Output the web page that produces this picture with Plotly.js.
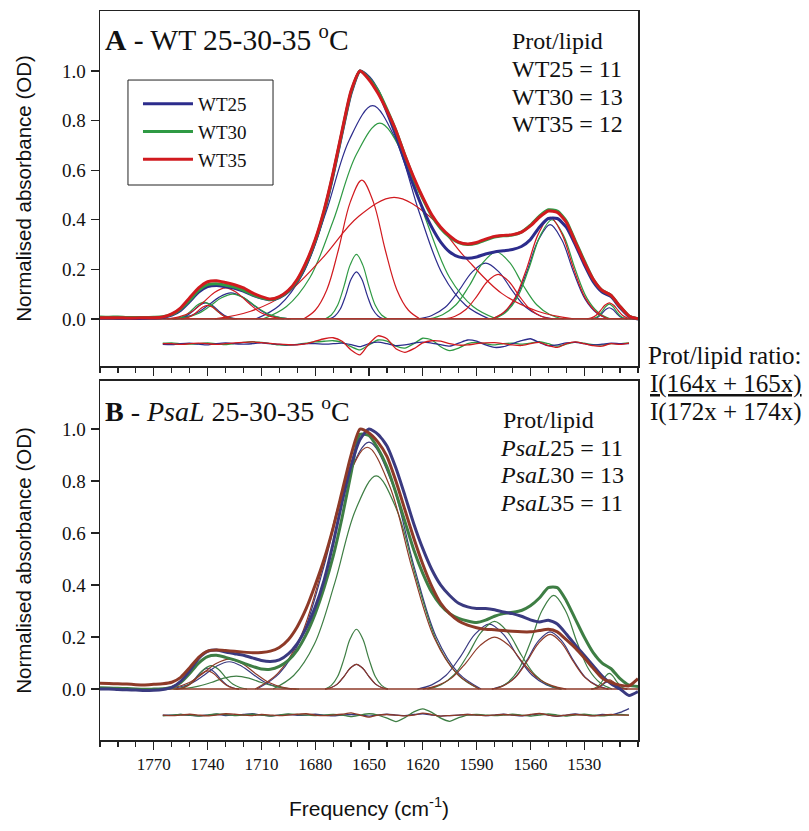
<!DOCTYPE html>
<html><head><meta charset="utf-8">
<script src="https://cdn.plot.ly/plotly-3.0.1.min.js"></script>
<style>html,body{margin:0;padding:0;background:#fff;}#chart{width:809px;height:831px;}</style>
</head><body><div id="chart"></div>
<script>
// ---- wavenumber grids (cm-1) ----
const wavenumbers = [1800,1795,1790,1785,1780,1775,1770,1765,1760,1755,1750,1745,1740,1735,1730,1725,1720,1715,1710,1705,1700,1695,1690,1685,1680,1675,1670,1665,1660,1655,1650,1645,1640,1635,1630,1625,1620,1615,1610,1605,1600,1595,1590,1585,1580,1575,1570,1565,1560,1555,1550,1545,1540,1535,1530,1525,1520,1515,1510,1505,1500];
const residWavenumbers = [1765,1760,1755,1750,1745,1740,1735,1730,1725,1720,1715,1710,1705,1700,1695,1690,1685,1680,1675,1670,1665,1660,1655,1650,1645,1640,1635,1630,1625,1620,1615,1610,1605,1600,1595,1590,1585,1580,1575,1570,1565,1560,1555,1550,1545,1540,1535,1530,1525,1520,1515,1510,1505];
const baselineX = [1800, 1500];
const baselineY = [0, 0];

// ---- Panel A: WT spectra ----
const specWT25 = [.004,.004,.003,.003,.002,.003,.004,.006,.015,.035,.07,.108,.13,.135,.13,.124,.112,.096,.084,.077,.086,.11,.152,.22,.31,.43,.58,.75,.91,1.0,.975,.92,.835,.74,.635,.535,.445,.37,.31,.27,.25,.245,.25,.262,.27,.275,.28,.292,.32,.37,.405,.405,.37,.3,.22,.15,.108,.09,.045,.01,0];
const specWT30 = [.008,.007,.008,.006,.006,.006,.007,.009,.018,.04,.075,.115,.138,.142,.136,.128,.115,.098,.085,.078,.088,.112,.155,.225,.315,.435,.585,.755,.915,1.0,.97,.92,.845,.76,.66,.565,.485,.415,.365,.33,.308,.3,.305,.318,.33,.335,.338,.35,.378,.415,.44,.435,.395,.315,.235,.16,.115,.095,.05,.012,0];
const specWT35 = [.005,.005,.005,.004,.004,.005,.005,.008,.02,.045,.085,.125,.15,.154,.147,.138,.125,.105,.09,.08,.09,.115,.16,.23,.32,.44,.59,.76,.92,1.0,.965,.91,.84,.76,.66,.57,.49,.42,.37,.335,.31,.302,.308,.322,.333,.337,.34,.35,.375,.41,.435,.43,.39,.31,.23,.16,.115,.095,.05,.012,0];
const residWT25 = [-.103,-.104,-.1,-.098,-.102,-.105,-.1,-.097,-.1,-.102,-.1,-.097,-.1,-.103,-.105,-.104,-.1,-.1,-.102,-.1,-.098,-.104,-.112,-.1,-.094,-.1,-.108,-.105,-.098,-.094,-.098,-.104,-.11,-.098,-.085,-.09,-.105,-.115,-.112,-.1,-.088,-.08,-.095,-.108,-.105,-.097,-.095,-.1,-.105,-.102,-.098,-.1,-.1];
const residWT30 = [-.098,-.097,-.1,-.102,-.1,-.097,-.1,-.104,-.1,-.095,-.092,-.095,-.1,-.105,-.106,-.103,-.098,-.093,-.09,-.088,-.095,-.112,-.125,-.105,-.085,-.09,-.11,-.118,-.1,-.078,-.085,-.112,-.128,-.118,-.1,-.095,-.1,-.105,-.1,-.098,-.102,-.098,-.092,-.1,-.11,-.102,-.094,-.098,-.104,-.105,-.1,-.1,-.097];
const residWT35 = [-.1,-.1,-.103,-.1,-.098,-.1,-.103,-.1,-.097,-.095,-.093,-.096,-.099,-.102,-.104,-.105,-.1,-.09,-.08,-.076,-.09,-.125,-.145,-.1,-.068,-.08,-.12,-.135,-.12,-.097,-.088,-.09,-.1,-.106,-.105,-.1,-.097,-.096,-.1,-.105,-.107,-.1,-.095,-.108,-.115,-.1,-.093,-.1,-.108,-.11,-.1,-.103,-.098];

// fitted component bands (x positions, heights)
const bandsWT25_x = [[1723.5,1727,1730.5,1734,1737.5,1741,1744.5,1748,1751.5,1755,1758.5],[1694.5,1701,1707.5,1714,1720.5,1727,1733.5,1740,1746.5,1753,1759.5],[1642,1645,1648,1651,1654,1657,1660,1663,1666,1669,1672],[1583,1596,1609,1622,1635,1648,1661,1674,1687,1700,1713],[1547.5,1555,1562.5,1570,1577.5,1585,1592.5,1600,1607.5,1615,1622.5],[1516.5,1523,1529.5,1536,1542.5,1549,1555.5,1562,1568.5,1575,1581.5],[1506,1508,1510,1512,1514,1516,1518,1520,1522,1524,1526]];
const bandsWT25_y = [[0,.004,.014,.033,.055,.065,.055,.033,.014,.004,0],[0,.007,.022,.053,.088,.105,.088,.053,.022,.007,0],[0,.012,.04,.095,.16,.19,.16,.095,.04,.012,0],[0,.054,.18,.43,.722,.86,.722,.43,.18,.054,0],[0,.014,.047,.113,.189,.225,.189,.113,.047,.014,0],[0,.024,.08,.19,.319,.38,.319,.19,.08,.024,0],[0,.003,.009,.023,.038,.045,.038,.023,.009,.003,0]];
const bandsWT30_x = [[1724.5,1728,1731.5,1735,1738.5,1742,1745.5,1749,1752.5,1756,1759.5],[1693.5,1700,1706.5,1713,1719.5,1726,1732.5,1739,1745.5,1752,1758.5],[1639.5,1643,1646.5,1650,1653.5,1657,1660.5,1664,1667.5,1671,1674.5],[1579,1592,1605,1618,1631,1644,1657,1670,1683,1696,1709],[1541.5,1549,1556.5,1564,1571.5,1579,1586.5,1594,1601.5,1609,1616.5],[1515.5,1522,1528.5,1535,1541.5,1548,1554.5,1561,1567.5,1574,1580.5],[1506,1508,1510,1512,1514,1516,1518,1520,1522,1524,1526]];
const bandsWT30_y = [[0,.004,.014,.034,.057,.068,.057,.034,.014,.004,0],[0,.006,.021,.05,.084,.1,.084,.05,.021,.006,0],[0,.016,.055,.13,.218,.26,.218,.13,.055,.016,0],[0,.05,.166,.395,.664,.79,.664,.395,.166,.05,0],[0,.017,.057,.135,.227,.27,.227,.135,.057,.017,0],[0,.025,.084,.2,.336,.4,.336,.2,.084,.025,0],[0,.004,.013,.03,.05,.06,.05,.03,.013,.004,0]];
const bandsWT35_x = [[1725,1728,1731,1734,1737,1740,1743,1746,1749,1752,1755],[1697.5,1704,1710.5,1717,1723.5,1730,1736.5,1743,1749.5,1756,1762.5],[1621.5,1628,1634.5,1641,1647.5,1654,1660.5,1667,1673.5,1680,1686.5],[1536,1556,1576,1596,1616,1636,1656,1676,1696,1716,1736],[1548,1554,1560,1566,1572,1578,1584,1590,1596,1602,1608],[1516.5,1523,1529.5,1536,1542.5,1549,1555.5,1562,1568.5,1575,1581.5],[1503.5,1506,1508.5,1511,1513.5,1516,1518.5,1521,1523.5,1526,1528.5]];
const bandsWT35_y = [[0,.003,.012,.028,.046,.055,.046,.028,.012,.003,0],[0,.008,.026,.063,.105,.125,.105,.063,.026,.008,0],[0,.035,.118,.28,.47,.56,.47,.28,.118,.035,0],[0,.031,.103,.245,.412,.49,.412,.245,.103,.031,0],[0,.011,.038,.09,.151,.18,.151,.09,.038,.011,0],[0,.026,.086,.205,.344,.41,.344,.205,.086,.026,0],[0,.004,.014,.033,.055,.065,.055,.033,.014,.004,0]];

// ---- Panel B: PsaL spectra ----
const specPsaL25 = [0,0,-.002,-.003,-.004,-.006,-.005,-.002,.006,.03,.07,.118,.145,.15,.142,.136,.13,.12,.11,.106,.112,.135,.175,.235,.315,.42,.56,.72,.86,.96,1.0,.98,.935,.85,.745,.635,.54,.46,.4,.36,.33,.316,.31,.31,.305,.296,.29,.28,.266,.258,.265,.25,.212,.17,.13,.09,.05,.02,0,-.025,-.01];
const specPsaL30 = [.005,.004,.003,.002,0,-.001,0,.001,.006,.025,.06,.1,.125,.13,.122,.112,.1,.087,.077,.076,.087,.11,.15,.21,.29,.39,.51,.66,.83,.98,.975,.925,.855,.755,.645,.535,.445,.372,.322,.29,.272,.262,.256,.265,.28,.29,.295,.302,.32,.35,.39,.39,.34,.27,.2,.14,.1,.078,.04,.015,.01];
const specPsaL35 = [.022,.021,.02,.019,.017,.016,.018,.02,.026,.045,.082,.122,.146,.15,.148,.145,.142,.14,.141,.146,.16,.19,.24,.31,.4,.5,.62,.76,.9,1.0,.985,.95,.895,.8,.69,.58,.48,.395,.33,.29,.262,.246,.236,.23,.228,.225,.222,.22,.22,.225,.23,.22,.19,.158,.12,.08,.042,.025,.015,.012,.04];
const residPsaL25 = [-.1,-.1,-.098,-.101,-.103,-.1,-.097,-.102,-.1,-.098,-.095,-.1,-.103,-.1,-.098,-.101,-.1,-.097,-.1,-.103,-.1,-.098,-.1,-.104,-.1,-.097,-.1,-.102,-.098,-.095,-.1,-.104,-.102,-.1,-.098,-.1,-.102,-.1,-.097,-.1,-.103,-.1,-.095,-.1,-.105,-.1,-.096,-.1,-.102,-.098,-.1,-.09,-.075];
const residPsaL30 = [-.103,-.1,-.098,-.1,-.104,-.1,-.096,-.098,-.102,-.1,-.097,-.1,-.104,-.1,-.096,-.098,-.1,-.102,-.1,-.098,-.1,-.106,-.1,-.095,-.1,-.112,-.125,-.11,-.088,-.076,-.09,-.112,-.124,-.11,-.1,-.098,-.1,-.102,-.1,-.097,-.1,-.104,-.1,-.096,-.1,-.104,-.1,-.097,-.1,-.103,-.1,-.098,-.1];
const residPsaL35 = [-.1,-.102,-.1,-.097,-.1,-.103,-.1,-.095,-.097,-.1,-.102,-.098,-.1,-.102,-.1,-.097,-.095,-.1,-.102,-.1,-.097,-.092,-.1,-.108,-.1,-.098,-.1,-.103,-.1,-.093,-.098,-.104,-.102,-.1,-.098,-.1,-.102,-.1,-.098,-.1,-.102,-.098,-.094,-.1,-.104,-.1,-.098,-.1,-.103,-.1,-.098,-.1,-.1];

const bandsPsaL25_x = [[1722.5,1726,1729.5,1733,1736.5,1740,1743.5,1747,1750.5,1754,1757.5],[1693,1700,1707,1714,1721,1728,1735,1742,1749,1756,1763],[1639.5,1643,1646.5,1650,1653.5,1657,1660.5,1664,1667.5,1671,1674.5],[1587.5,1600,1612.5,1625,1637.5,1650,1662.5,1675,1687.5,1700,1712.5],[1543,1551,1559,1567,1575,1583,1591,1599,1607,1615,1623],[1516.5,1523,1529.5,1536,1542.5,1549,1555.5,1562,1568.5,1575,1581.5],[1506,1508,1510,1512,1514,1516,1518,1520,1522,1524,1526]];
const bandsPsaL25_y = [[0,.005,.017,.04,.067,.08,.067,.04,.017,.005,0],[0,.007,.022,.053,.088,.105,.088,.053,.022,.007,0],[0,.006,.02,.048,.08,.095,.08,.048,.02,.006,0],[0,.06,.2,.475,.798,.95,.798,.475,.2,.06,0],[0,.016,.053,.125,.21,.25,.21,.125,.053,.016,0],[0,.014,.046,.11,.185,.22,.185,.11,.046,.014,0],[0,.002,.006,.015,.025,.03,.025,.015,.006,.002,0]];
const bandsPsaL30_x = [[1718,1722,1726,1730,1734,1738,1742,1746,1750,1754,1758],[1689,1696,1703,1710,1717,1724,1731,1738,1745,1752,1759],[1639.5,1643,1646.5,1650,1653.5,1657,1660.5,1664,1667.5,1671,1674.5],[1588.5,1600,1611.5,1623,1634.5,1646,1657.5,1669,1680.5,1692,1703.5],[1542.5,1550,1557.5,1565,1572.5,1580,1587.5,1595,1602.5,1610,1617.5],[1514.5,1521,1527.5,1534,1540.5,1547,1553.5,1560,1566.5,1573,1579.5],[1506,1508,1510,1512,1514,1516,1518,1520,1522,1524,1526]];
const bandsPsaL30_y = [[0,.006,.019,.045,.076,.09,.076,.045,.019,.006,0],[0,.003,.011,.025,.042,.05,.042,.025,.011,.003,0],[0,.014,.048,.115,.193,.23,.193,.115,.048,.014,0],[0,.052,.172,.41,.689,.82,.689,.41,.172,.052,0],[0,.016,.055,.13,.218,.26,.218,.13,.055,.016,0],[0,.023,.076,.18,.302,.36,.302,.18,.076,.023,0],[0,.004,.013,.03,.05,.06,.05,.03,.013,.004,0]];
const bandsPsaL35_x = [[1722.5,1726,1729.5,1733,1736.5,1740,1743.5,1747,1750.5,1754,1757.5],[1690.5,1698,1705.5,1713,1720.5,1728,1735.5,1743,1750.5,1758,1765.5],[1639.5,1643,1646.5,1650,1653.5,1657,1660.5,1664,1667.5,1671,1674.5],[1588.5,1601,1613.5,1626,1638.5,1651,1663.5,1676,1688.5,1701,1713.5],[1540,1548,1556,1564,1572,1580,1588,1596,1604,1612,1620],[1516.5,1523,1529.5,1536,1542.5,1549,1555.5,1562,1568.5,1575,1581.5],[1506,1508,1510,1512,1514,1516,1518,1520,1522,1524,1526]];
const bandsPsaL35_y = [[0,.004,.015,.035,.059,.07,.059,.035,.015,.004,0],[0,.007,.024,.058,.097,.115,.097,.058,.024,.007,0],[0,.006,.02,.048,.08,.095,.08,.048,.02,.006,0],[0,.059,.195,.465,.781,.93,.781,.465,.195,.059,0],[0,.013,.042,.1,.168,.2,.168,.1,.042,.013,0],[0,.013,.044,.105,.176,.21,.176,.105,.044,.013,0],[0,.002,.007,.018,.029,.035,.029,.018,.007,.002,0]];

const yTickVals = [0, 0.2, 0.4, 0.6, 0.8, 1.0];
const xTickVals = [1770, 1740, 1710, 1680, 1650, 1620, 1590, 1560, 1530];

// ---- styling ----
const colA = {WT25: '#2C2C8C', WT30: '#2F9A44', WT35: '#D11A1F'};
const colB = {P25: '#3A3A80', P30: '#3E7E44', P35: '#8E3A28'};
const SERIF = 'Liberation Serif, Times New Roman, serif';
const SANS = 'Liberation Sans, Arial, sans-serif';

const traces = [];
function addBands(xs, ys, color, xa, ya) {
  for (let i = 0; i < xs.length; i++) {
    traces.push({x: xs[i], y: ys[i], xaxis: xa, yaxis: ya, mode: 'lines', showlegend: false, hoverinfo: 'skip',
      line: {color: color, width: 1.2, shape: 'spline', smoothing: 1}});
  }
}
function addLine(x, y, color, w, xa, ya, name, legend) {
  const t = {x: x, y: y, xaxis: xa, yaxis: ya, mode: 'lines', showlegend: !!legend,
    line: {color: color, width: w, shape: 'spline', smoothing: 0.6}};
  if (name) { t.name = name; t.legendgroup = name; }
  traces.push(t);
}

// Panel A
addBands(bandsWT25_x, bandsWT25_y, colA.WT25, 'x', 'y');
addBands(bandsWT30_x, bandsWT30_y, colA.WT30, 'x', 'y');
addBands(bandsWT35_x, bandsWT35_y, colA.WT35, 'x', 'y');
addLine(baselineX, baselineY, colA.WT25, 1.2, 'x', 'y');
addLine(baselineX, baselineY, colA.WT30, 1.2, 'x', 'y');
addLine(baselineX, baselineY, colA.WT35, 1.4, 'x', 'y');
addLine(residWavenumbers, residWT30, colA.WT30, 1.3, 'x', 'y');
addLine(residWavenumbers, residWT25, colA.WT25, 1.3, 'x', 'y');
addLine(residWavenumbers, residWT35, colA.WT35, 1.3, 'x', 'y');
addLine(wavenumbers, specWT25, colA.WT25, 3, 'x', 'y', 'WT25', true);
addLine(wavenumbers, specWT30, colA.WT30, 3, 'x', 'y', 'WT30', true);
addLine(wavenumbers, specWT35, colA.WT35, 3, 'x', 'y', 'WT35', true);

// Panel B
addBands(bandsPsaL25_x, bandsPsaL25_y, colB.P25, 'x2', 'y2');
addBands(bandsPsaL30_x, bandsPsaL30_y, colB.P30, 'x2', 'y2');
addBands(bandsPsaL35_x, bandsPsaL35_y, colB.P35, 'x2', 'y2');
addLine(baselineX, baselineY, colB.P35, 1.4, 'x2', 'y2');
addLine(residWavenumbers, residPsaL25, colB.P25, 1.3, 'x2', 'y2');
addLine(residWavenumbers, residPsaL30, colB.P30, 1.3, 'x2', 'y2');
addLine(residWavenumbers, residPsaL35, colB.P35, 1.3, 'x2', 'y2');
addLine(wavenumbers, specPsaL30, colB.P30, 3, 'x2', 'y2');
addLine(wavenumbers, specPsaL25, colB.P25, 3, 'x2', 'y2');
addLine(wavenumbers, specPsaL35, colB.P35, 3, 'x2', 'y2');

const xCommon = {range: [1800, 1500], showline: true, mirror: true, linecolor: '#222', linewidth: 1.5,
  ticks: 'outside', ticklen: 8, tickwidth: 1.3, tickcolor: '#222', tickvals: xTickVals,
  minor: {dtick: 10, tick0: 1500, ticks: 'outside', ticklen: 5, tickwidth: 1.2, tickcolor: '#222'},
  showgrid: false, zeroline: false, fixedrange: true,
  tickfont: {family: SERIF, size: 17, color: '#111'}};
const yCommon = {showline: true, mirror: true, linecolor: '#222', linewidth: 1.5,
  ticks: 'outside', ticklen: 8, tickwidth: 1.3, tickcolor: '#222', tickvals: yTickVals, tickformat: '.1f',
  showgrid: false, zeroline: false, fixedrange: true, ticklabelstandoff: 1,
  tickfont: {family: SERIF, size: 19, color: '#111'},
  title: {text: 'Normalised absorbance (OD)', font: {family: SANS, size: 20.5, color: '#111'}, standoff: 25}};

const ann = (text, x, y, size, extra) => Object.assign({text: text, x: x, y: y, xref: 'paper', yref: 'paper',
  xanchor: 'left', yanchor: 'middle', showarrow: false, font: {family: SERIF, size: size, color: '#111'}}, extra || {});

const layout = {
  width: 809, height: 831,
  margin: {l: 100, r: 171, t: 11, b: 91},
  paper_bgcolor: '#fff', plot_bgcolor: '#fff',
  showlegend: true,
  legend: {x: 0.0706, y: 0.8985, xanchor: 'left', yanchor: 'top', bgcolor: 'rgba(0,0,0,0)', borderwidth: 0,
    font: {family: SERIF, size: 19, color: '#111'}, tracegroupgap: 0, itemwidth: 50},
  shapes: [
    {type: 'rect', xref: 'paper', yref: 'paper', x0: 0.052, x1: 0.3216, y0: 0.7613, y1: 0.9053,
     line: {color: '#222', width: 1}, fillcolor: 'rgba(0,0,0,0)', layer: 'above'}
  ],
  xaxis: Object.assign({}, xCommon, {anchor: 'y', showticklabels: false}),
  yaxis: Object.assign({}, yCommon, {domain: [0.513, 1], range: [-0.19, 1.242], anchor: 'x'}),
  xaxis2: Object.assign({}, xCommon, {anchor: 'y2',
    title: {text: 'Frequency (cm<sup>-1</sup>)', font: {family: SANS, size: 21, color: '#111'}, standoff: 28}}),
  yaxis2: Object.assign({}, yCommon, {domain: [0, 0.4925], range: [-0.196, 1.185], anchor: 'x2'}),
  annotations: [
    ann('<b>A</b> - WT 25-30-35 <sup>o</sup>C', 0.0056, 0.963, 29.5),
    ann('Prot/lipid', 0.762, 0.9588, 24),
    ann('WT25 = 11', 0.762, 0.9204, 24),
    ann('WT30 = 13', 0.762, 0.882, 24),
    ann('WT35 = 12', 0.762, 0.845, 24),
    ann('<b>B</b> - <i>PsaL</i> 25-30-35 <sup>o</sup>C', 0.0056, 0.4527, 28),
    ann('Prot/lipid', 0.745, 0.439, 24),
    ann('<i>PsaL</i>25 = 11', 0.740, 0.4005, 24),
    ann('<i>PsaL</i>30 = 13', 0.740, 0.3635, 24),
    ann('<i>PsaL</i>35 = 11', 0.740, 0.325, 24),
    ann('Prot/lipid ratio:', 1.0149, 0.528, 25),
    ann('<u>I(164x + 165x)</u>', 1.0186, 0.488, 25),
    ann('I(172x + 174x)', 1.0186, 0.450, 25)
  ]
};

Plotly.newPlot('chart', traces, layout, {staticPlot: true, displayModeBar: false});
</script></body></html>
